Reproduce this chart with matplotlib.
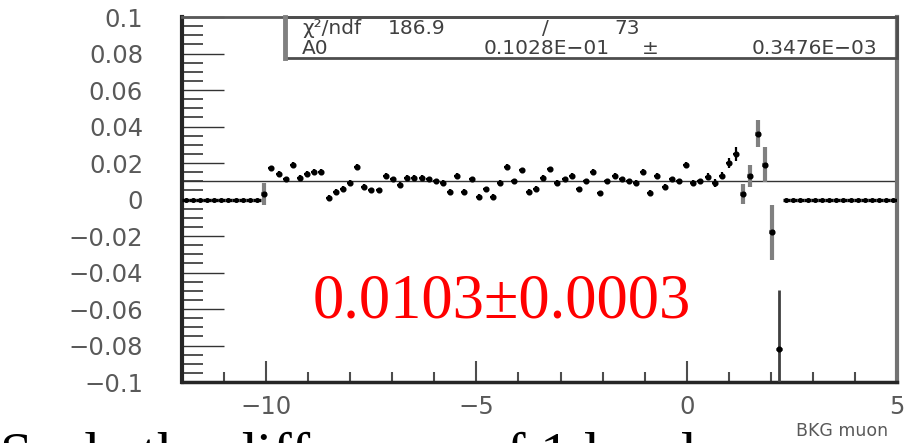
import numpy as np
import matplotlib
matplotlib.use("Agg")
import matplotlib.pyplot as plt

# ---- data ----
x_min, x_max, n_bins = -12.0, 5.0, 100
first_bin = 11
values = [0.003, 0.017, 0.014, 0.011, 0.019, 0.012, 0.014, 0.015, 0.015, 0.001,
          0.004, 0.006, 0.009, 0.018, 0.007, 0.005, 0.005, 0.013, 0.011, 0.008,
          0.012, 0.012, 0.012, 0.011, 0.010, 0.009, 0.004, 0.013, 0.004, 0.011,
          0.0015, 0.0056, 0.0015, 0.009, 0.018, 0.010, 0.016, 0.004, 0.006, 0.012,
          0.0165, 0.009, 0.011, 0.013, 0.0056, 0.010, 0.015, 0.0034, 0.010, 0.013,
          0.011, 0.010, 0.009, 0.015, 0.0037, 0.013, 0.007, 0.011, 0.010, 0.019,
          0.009, 0.010, 0.0125, 0.009, 0.013, 0.020, 0.025, 0.003, 0.013, 0.036,
          0.019, -0.018, -0.082]
errors = [0.006, 0.0015, 0.0015, 0.0015, 0.0015, 0.0015, 0.0015, 0.0015, 0.0015, 0.0015,
          0.0015, 0.0015, 0.0015, 0.0015, 0.0015, 0.0015, 0.0015, 0.0015, 0.0015, 0.0015,
          0.0015, 0.0015, 0.0015, 0.0015, 0.0015, 0.0015, 0.0015, 0.0015, 0.0015, 0.0015,
          0.0015, 0.0015, 0.0015, 0.0015, 0.0015, 0.0015, 0.0015, 0.0015, 0.0015, 0.0015,
          0.0015, 0.0015, 0.0015, 0.0015, 0.0015, 0.0015, 0.0015, 0.0015, 0.0015, 0.0015,
          0.0015, 0.0015, 0.0015, 0.0015, 0.0015, 0.0015, 0.0015, 0.0015, 0.0015, 0.0015,
          0.0015, 0.0015, 0.002, 0.002, 0.002, 0.003, 0.004, 0.0055, 0.006, 0.0075,
          0.0096, 0.015, 0.0325]
fit_value = 0.01028
stat_label_1, stat_chi2, stat_ndf = "χ²/ndf", "186.9", "73"
stat_label_2, stat_a0, stat_a0_err = "A0", "0.1028E−01", "0.3476E−03"
result_text = "0.0103±0.0003"
x_label = "BKG muon"
caption = "Scale the difference of 1 level"

# ---- build histogram ----
width = (x_max - x_min) / n_bins
centers = x_min + width * (np.arange(n_bins) + 0.5)
contents = np.zeros(n_bins)
errs = np.zeros(n_bins)
contents[first_bin:first_bin + len(values)] = values
errs[first_bin:first_bin + len(errors)] = errors

W, H = 912, 443
fig = plt.figure(figsize=(W / 100, H / 100), dpi=100)
ax = fig.add_axes([182 / W, (H - 382) / H, (897 - 182) / W, (382 - 17) / H])
ax.set_xlim(x_min, x_max)
ax.set_ylim(-0.1, 0.1)

ax.axhline(fit_value, color="0.2", lw=1.0, zorder=2)

empty = errs == 0
normal = (errs > 0) & (errs <= 0.005)
big = (errs > 0.005) & (errs < 0.03)
huge = errs >= 0.03
ax.errorbar(centers[empty], contents[empty], xerr=width * 0.5,
            fmt="o", ms=2.6, color="black", ecolor="black", elinewidth=2.4,
            capsize=0, zorder=3)
ax.errorbar(centers[normal], contents[normal], yerr=errs[normal], xerr=width * 0.42,
            fmt="o", ms=3.4, color="black", ecolor="black", elinewidth=1.6,
            capsize=0, zorder=3)
ax.errorbar(centers[big], contents[big], yerr=errs[big], xerr=width * 0.42,
            fmt="o", ms=3.4, color="black", ecolor="0.5", elinewidth=3.0,
            capsize=0, zorder=3)
ax.errorbar(centers[huge], contents[huge], yerr=errs[huge], xerr=width * 0.42,
            fmt="o", ms=3.4, color="black", ecolor="0.25", elinewidth=2.0,
            capsize=0, zorder=3)

# ticks
ax.set_yticks(np.arange(-0.1, 0.1001, 0.02))
ax.set_yticks(np.arange(-0.1, 0.1001, 0.005), minor=True)
ax.set_xticks([-10, -5, 0, 5])
ax.set_xticks(np.arange(-12, 5.01, 1), minor=True)

def yfmt(v):
    if abs(v) < 1e-9:
        return "0"
    s = ("%.2f" % v).rstrip("0")
    return s.replace("-", "−")

ax.set_yticklabels([yfmt(v) for v in np.arange(-0.1, 0.1001, 0.02)])
ax.set_xticklabels(["−10", "−5", "0", "5"])
ax.tick_params(axis="y", which="major", direction="in", length=30, width=1.0,
               colors="0.2", labelcolor="0.35", labelsize=17.5, pad=28)
ax.tick_params(axis="y", which="minor", direction="in", length=15, width=1.2, colors="0.2")
ax.tick_params(axis="x", which="major", direction="in", length=15, width=1.5,
               colors="0.3", labelcolor="0.35", labelsize=17.5, pad=9)
ax.tick_params(axis="x", which="minor", direction="in", length=7, width=1.5, colors="0.3")
for lab in ax.get_yticklabels():
    lab.set_horizontalalignment("right")

ax.spines["left"].set_linewidth(3.0)
ax.spines["left"].set_color("0.15")
ax.spines["bottom"].set_linewidth(2.5)
ax.spines["bottom"].set_color("0.15")
ax.spines["top"].set_linewidth(2.0)
ax.spines["top"].set_color("0.35")
ax.spines["right"].set_linewidth(3.0)
ax.spines["right"].set_color("0.45")

# stats box
def ax_x(px):
    return (px - 182) / (897 - 182)

def ax_y(py):
    return (382 - py) / (382 - 17)

box_l = ax_x(285)
box_b = ax_y(58)
ax.add_patch(plt.Rectangle((box_l, box_b), 1 - box_l, 1 - box_b, transform=ax.transAxes,
                           fill=False, ec="0.3", lw=2.0, zorder=5, clip_on=False))
ax.plot([box_l, box_l], [box_b, 1], transform=ax.transAxes, color="0.5", lw=3.5, zorder=5,
        clip_on=False)
tkw = dict(transform=ax.transAxes, fontsize=14.5, color="0.25", va="center", zorder=6)
ax.text(ax_x(302), ax_y(28), stat_label_1, ha="left", **tkw)
ax.text(ax_x(388), ax_y(28), stat_chi2, ha="left", **tkw)
ax.text(ax_x(545), ax_y(28), "/", ha="center", **tkw)
ax.text(ax_x(640), ax_y(28), stat_ndf, ha="right", **tkw)
ax.text(ax_x(302), ax_y(48), stat_label_2, ha="left", **tkw)
ax.text(ax_x(610), ax_y(48), stat_a0, ha="right", **tkw)
ax.text(ax_x(650), ax_y(48), "±", ha="center", **tkw)
ax.text(ax_x(877), ax_y(48), stat_a0_err, ha="right", **tkw)

fig.text(888 / W, (H - 431) / H, x_label, fontsize=12.5, color="0.35",
         ha="right", va="center")

fig.text(313 / W, (H - 318) / H, result_text, fontsize=45, color="red",
         family=["Liberation Serif", "DejaVu Serif"], ha="left", va="baseline")
fig.text(0 / W, (H - 432) / H, caption, fontsize=42, color="black",
         family=["Liberation Serif", "DejaVu Serif"], ha="left", va="top")

fig.savefig("out.png", dpi=100)
